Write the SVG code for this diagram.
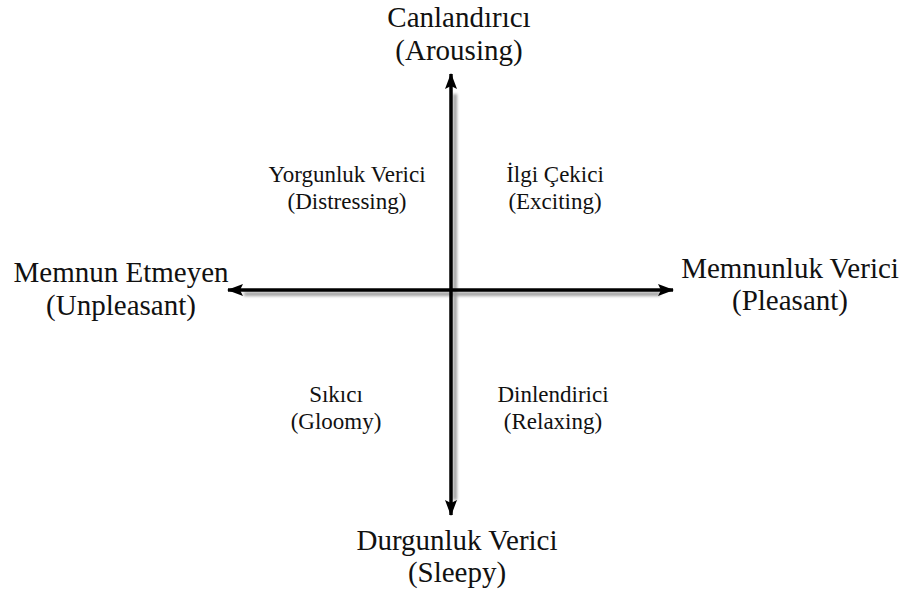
<svg xmlns="http://www.w3.org/2000/svg" width="904" height="594" viewBox="0 0 904 594">
  <style>
    text { font-family: 'Liberation Serif', 'Times New Roman', Times, serif; fill: #111; text-anchor: middle; }
    .big { font-size: 29px; }
    .small { font-size: 23px; }
    .axis { stroke: #000; stroke-width: 3.5; fill: none; }
    .shadow { stroke: #888; stroke-width: 4; fill: none; }
  </style>
  <defs>
    <marker id="arrow" viewBox="0 0 16 12" refX="15" refY="6" markerWidth="16" markerHeight="12" markerUnits="userSpaceOnUse" orient="auto">
      <path d="M0,0 L16,6 L0,12 L3,6 z" fill="#000"/>
    </marker>
    <filter id="blur" x="-20%" y="-20%" width="140%" height="140%">
      <feGaussianBlur stdDeviation="1.5"/>
    </filter>
  </defs>
  <rect width="904" height="594" fill="#fff"/>

  <g id="connectors">
    <g filter="url(#blur)" opacity="0.8">
      <line class="shadow" x1="455" y1="94" x2="455" y2="500"/>
      <line class="shadow" x1="244" y1="294" x2="660" y2="294"/>
    </g>
    <line class="axis" x1="451" y1="290" x2="451" y2="74" marker-end="url(#arrow)"/>
    <line class="axis" x1="451" y1="290" x2="451" y2="515" marker-end="url(#arrow)"/>
    <line class="axis" x1="451" y1="290" x2="228" y2="290" marker-end="url(#arrow)"/>
    <line class="axis" x1="451" y1="290" x2="673" y2="290" marker-end="url(#arrow)"/>
  </g>

  <g id="arousing" font-family="Liberation Serif, serif">
    <text class="big" x="459" y="27">Canlandırıcı</text>
    <text class="big" x="459" y="60">(Arousing)</text>
  </g>
  <g id="unpleasant" font-family="Liberation Serif, serif">
    <text class="big" x="121" y="282">Memnun Etmeyen</text>
    <text class="big" x="121" y="315">(Unpleasant)</text>
  </g>
  <g id="pleasant" font-family="Liberation Serif, serif">
    <text class="big" x="790" y="278">Memnunluk Verici</text>
    <text class="big" x="790" y="310">(Pleasant)</text>
  </g>
  <g id="sleepy" font-family="Liberation Serif, serif">
    <text class="big" x="457" y="550">Durgunluk Verici</text>
    <text class="big" x="457" y="582">(Sleepy)</text>
  </g>
  <g id="distressing" font-family="Liberation Serif, serif">
    <text class="small" x="347" y="182">Yorgunluk Verici</text>
    <text class="small" x="347" y="209">(Distressing)</text>
  </g>
  <g id="exciting" font-family="Liberation Serif, serif">
    <text class="small" x="555" y="182">İlgi Çekici</text>
    <text class="small" x="555" y="209">(Exciting)</text>
  </g>
  <g id="gloomy" font-family="Liberation Serif, serif">
    <text class="small" x="336" y="402">Sıkıcı</text>
    <text class="small" x="336" y="429">(Gloomy)</text>
  </g>
  <g id="relaxing" font-family="Liberation Serif, serif">
    <text class="small" x="553" y="402">Dinlendirici</text>
    <text class="small" x="553" y="429">(Relaxing)</text>
  </g>
</svg>
